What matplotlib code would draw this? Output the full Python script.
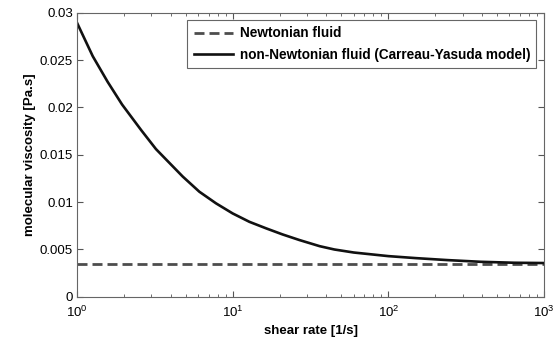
import matplotlib
matplotlib.use('Agg')
import matplotlib.pyplot as plt
import numpy as np

plt.rcParams['font.family'] = 'Liberation Sans'
plt.rcParams['mathtext.fontset'] = 'custom'
plt.rcParams['mathtext.rm'] = 'Liberation Sans'
plt.rcParams['mathtext.it'] = 'Liberation Sans'

# shear rate [1/s] and viscosity [Pa.s]
shear_rate = [1, 1.26, 1.57, 1.945, 2.58, 3.21, 3.73, 4.77, 6.1, 7.81, 9.98,
              12.8, 16.4, 20.9, 26.8, 36.2, 45, 60, 100, 150, 240, 393, 644, 1000]
visc_cy = [0.0289, 0.0254, 0.0227, 0.0203, 0.0176, 0.0156, 0.0145, 0.0127,
           0.0111, 0.00987, 0.00881, 0.00792, 0.00723, 0.00659, 0.00600,
           0.00535, 0.00500, 0.00468, 0.0043, 0.00409, 0.00388, 0.0037,
           0.0036, 0.00357]
newton_rate = [1, 1000]
newton_visc = [0.0035, 0.0035]

fig = plt.figure(figsize=(5.55, 3.42), dpi=100)
ax = fig.add_axes([0.139, 0.132, 0.841, 0.831])

ax.plot(newton_rate, newton_visc, color='#4d4d4d', lw=2, linestyle=(0, (3.6, 1.8)),
        label='Newtonian fluid')
ax.plot(shear_rate, visc_cy, color='#111111', lw=1.9,
        label='non-Newtonian fluid (Carreau-Yasuda model)')

ax.set_xscale('log')
ax.set_xlim(1, 1000)
ax.set_ylim(0, 0.03)
ax.set_yticks([0, 0.005, 0.01, 0.015, 0.02, 0.025, 0.03])
ax.set_yticklabels(['0', '0.005', '0.01', '0.015', '0.02', '0.025', '0.03'])

ax.tick_params(which='both', direction='in', top=True, right=True,
               labelsize=9.5, color='#555555')
ax.tick_params(which='major', length=4)
ax.tick_params(which='minor', length=2)
ax.tick_params(axis='x', pad=6)
ax.tick_params(axis='y', pad=3)
for s in ax.spines.values():
    s.set_color('#666666')
    s.set_linewidth(0.8)

ax.set_xlabel('shear rate [1/s]', fontsize=9.5, fontweight='bold', labelpad=3)
ax.set_ylabel('molecular viscosity [Pa.s]', fontsize=9.5, fontweight='bold', labelpad=3)

leg = ax.legend(loc='upper right', fontsize=9.8, fancybox=False, framealpha=1,
                edgecolor='#666666', handlelength=2.9, borderpad=0.45,
                labelspacing=0.55, borderaxespad=0.55, handletextpad=0.5)
leg.get_frame().set_linewidth(0.8)
for t in leg.get_texts():
    t.set_fontweight('bold')

fig.savefig('out.png', dpi=100)
